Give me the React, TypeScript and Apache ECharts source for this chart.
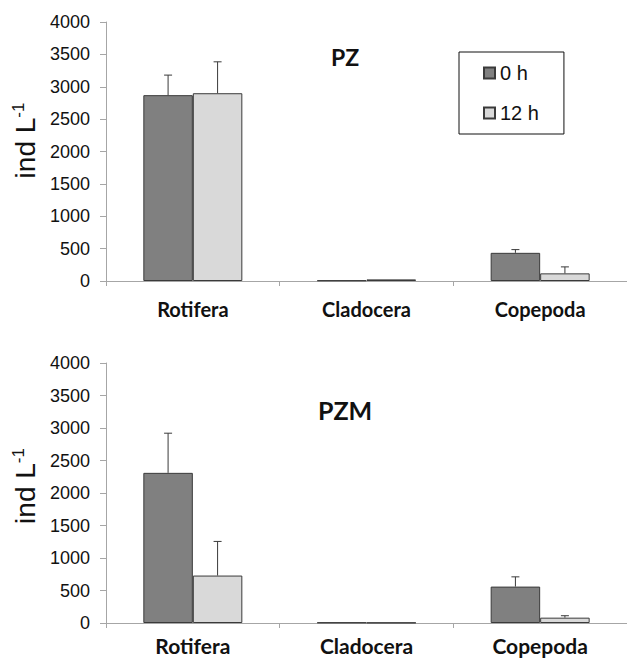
import React, { useEffect, useRef } from "react";
import * as echarts from "echarts";

const categories = ["Rotifera", "Cladocera", "Copepoda"];
const seriesNames = ["0 h", "12 h"];
const pz0h = [2870, 10, 435];
const pz0hErr = [310, 0, 50];
const pz12h = [2900, 25, 118];
const pz12hErr = [485, 0, 100];
const pzm0h = [2310, 8, 560];
const pzm0hErr = [610, 0, 150];
const pzm12h = [730, 5, 82];
const pzm12hErr = [525, 0, 30];
const yTicks = [0, 500, 1000, 1500, 2000, 2500, 3000, 3500, 4000];
const panelTitles = ["PZ", "PZM"];

const DARK = "#808080";
const LIGHT = "#d9d9d9";
const EDGE = "#3a3a3a";
const AXIS = "#a6a6a6";
const BAR_FRAC = 0.285;

function errData(vals: number[], errs: number[], side: number) {
  const out: number[][] = [];
  vals.forEach((v, i) => {
    if (errs[i] > 0) out.push([i, v, errs[i], side]);
  });
  return out;
}

const renderErr = (params: any, api: any) => {
  const cat = api.value(0);
  const v = api.value(1);
  const e = api.value(2);
  const side = api.value(3);
  const band = api.size([1, 0])[0];
  const off = (side * band * BAR_FRAC) / 2;
  const p0 = api.coord([cat, v]);
  const p1 = api.coord([cat, v + e]);
  const x = p0[0] + off;
  const st = { stroke: EDGE, lineWidth: 1 };
  return {
    type: "group",
    children: [
      { type: "line", shape: { x1: x, y1: p0[1], x2: x, y2: p1[1] }, style: st },
      { type: "line", shape: { x1: x - 4, y1: p1[1], x2: x + 4, y2: p1[1] }, style: st },
    ],
  };
};

export default function App() {
  const ref = useRef<HTMLDivElement>(null);
  useEffect(() => {
    document.body.style.margin = "0";
    const chart = echarts.init(ref.current!, null, { renderer: "svg" });
    const xAxisBase = (idx: number, fs: number, margin: number, lh: number) => ({
      type: "category",
      gridIndex: idx,
      data: categories,
      axisLine: { lineStyle: { color: AXIS, width: 1 } },
      axisTick: { show: true, length: 5, lineStyle: { color: AXIS } },
      axisLabel: {
        color: "#111",
        fontFamily: "Lato",
        fontWeight: "bold",
        fontSize: fs,
        lineHeight: lh,
        margin,
      },
    });
    const yAxisBase = (idx: number, shift: number) => ({
      type: "value",
      gridIndex: idx,
      min: 0,
      max: 4000,
      interval: 500,
      axisLine: { show: true, lineStyle: { color: AXIS, width: 1 } },
      axisTick: { show: true, length: 6, lineStyle: { color: AXIS } },
      splitLine: { show: false },
      axisLabel: {
        color: "#111",
        fontFamily: "Liberation Sans",
        fontSize: 18,
        margin: 16,
        formatter: (v: number) => (yTicks.includes(v) ? String(v) : ""),
      },
      name: "{a|ind L}{s|-1}",
      nameLocation: "middle",
      nameRotate: 90,
      nameGap: 66,
      nameTextStyle: {
        padding: [0, 0, 0, shift],
        rich: {
          a: { fontFamily: "Liberation Sans", fontSize: 28, color: "#111" },
          s: {
            fontFamily: "Liberation Sans",
            fontSize: 17,
            color: "#111",
            verticalAlign: "top",
            padding: [0, 0, 13, 0],
          },
        },
      },
    });
    const barSeries = (name: string, data: number[], idx: number, color: string) => ({
      type: "bar",
      name,
      xAxisIndex: idx,
      yAxisIndex: idx,
      data,
      barWidth: BAR_FRAC * 100 + "%",
      barGap: "0%",
      itemStyle: { color, borderColor: EDGE, borderWidth: 1 },
    });
    const errSeries = (d: number[][], idx: number) => ({
      type: "custom",
      xAxisIndex: idx,
      yAxisIndex: idx,
      data: d,
      encode: { x: 0, y: 1 },
      renderItem: renderErr,
      z: 3,
    });
    chart.setOption({
      animation: false,
      backgroundColor: "#ffffff",
      title: [
        {
          text: panelTitles[0],
          left: 331,
          top: 45,
          padding: 0,
          textStyle: { fontFamily: "Lato", fontWeight: "bold", fontSize: 23, color: "#111" },
        },
        {
          text: panelTitles[1],
          left: 318,
          top: 397,
          padding: 0,
          textStyle: { fontFamily: "Lato", fontWeight: "bold", fontSize: 25, color: "#111" },
        },
      ],
      legend: {
        data: seriesNames,
        orient: "vertical",
        left: 459,
        top: 52,
        padding: [11, 25, 11, 24],
        itemGap: 20,
        itemWidth: 11,
        itemHeight: 11,
        icon: "rect",
        borderColor: "#111",
        borderWidth: 1,
        textStyle: { fontFamily: "Liberation Sans", fontSize: 20, color: "#111" },
      },
      grid: [
        { left: 106, top: 22, width: 521, height: 259 },
        { left: 106, top: 363, width: 521, height: 260 },
      ],
      xAxis: [xAxisBase(0, 20, 18, 20), xAxisBase(1, 21, 12, 21)],
      yAxis: [yAxisBase(0, 22), yAxisBase(1, 14)],
      series: [
        barSeries(seriesNames[0], pz0h, 0, DARK),
        barSeries(seriesNames[1], pz12h, 0, LIGHT),
        barSeries(seriesNames[0], pzm0h, 1, DARK),
        barSeries(seriesNames[1], pzm12h, 1, LIGHT),
        errSeries(errData(pz0h, pz0hErr, -1), 0),
        errSeries(errData(pz12h, pz12hErr, 1), 0),
        errSeries(errData(pzm0h, pzm0hErr, -1), 1),
        errSeries(errData(pzm12h, pzm12hErr, 1), 1),
      ],
    });
    return () => chart.dispose();
  }, []);
  return <div ref={ref} style={{ width: 627, height: 658 }} />;
}
